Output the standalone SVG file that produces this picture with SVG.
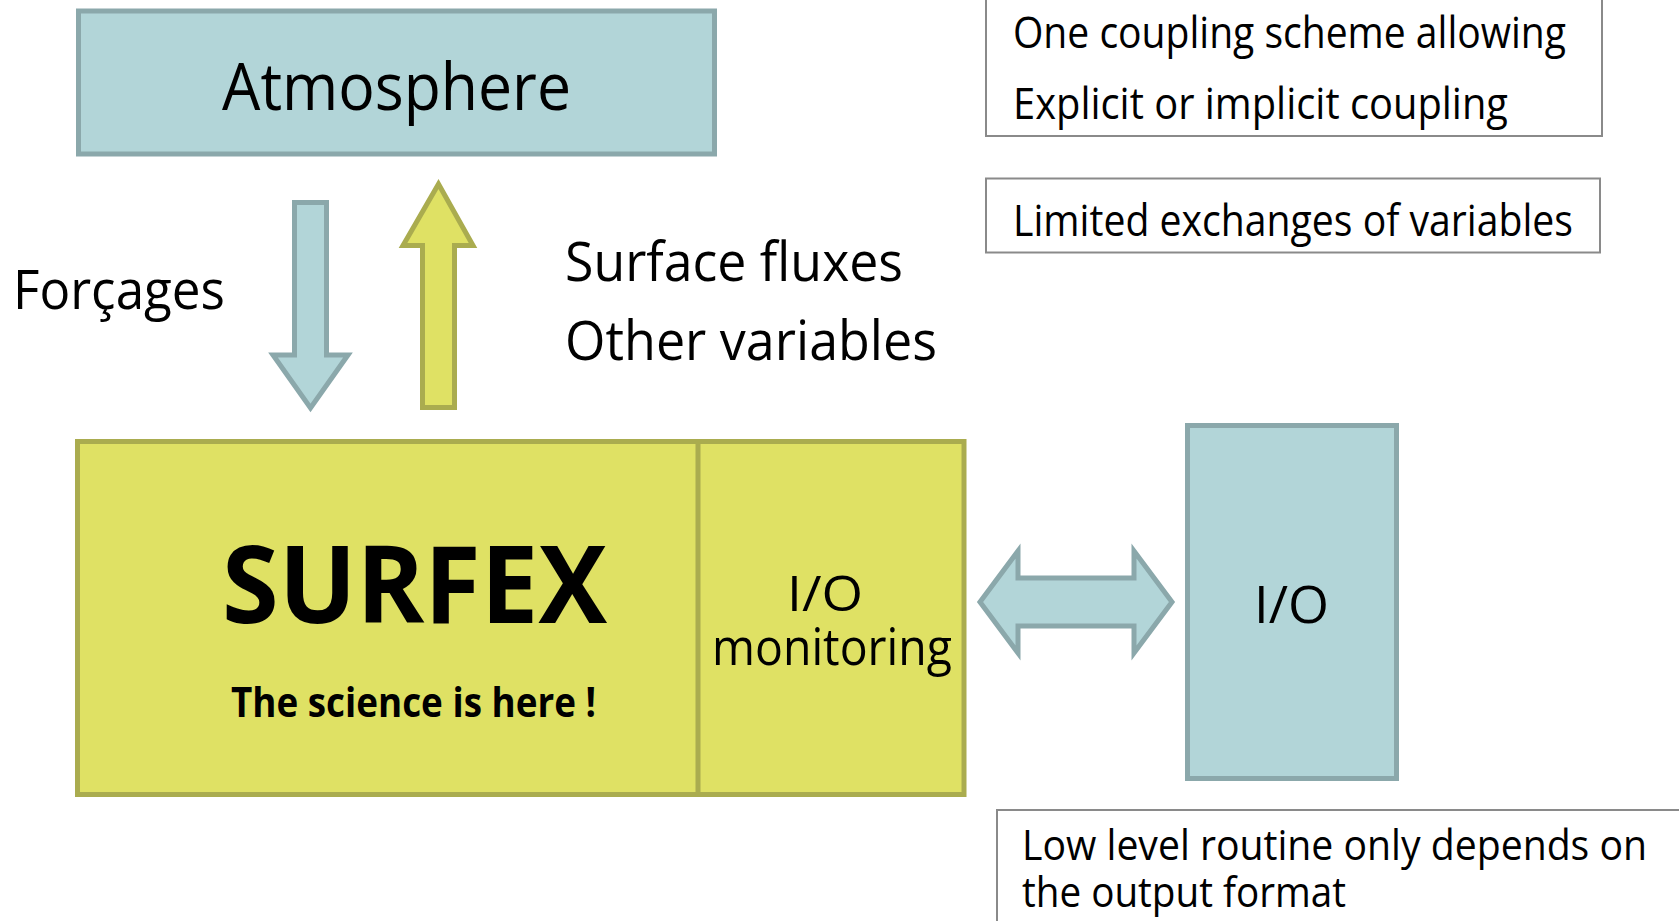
<svg xmlns="http://www.w3.org/2000/svg" width="1679" height="921" viewBox="0 0 1679 921">
<style>
  .blue { fill: #b2d5d8; stroke: #8ba8ab; stroke-width: 5; }
  .yel { fill: #dfe164; stroke: #aaac4f; stroke-width: 5; }
  .note { fill: #ffffff; stroke: #8a8a8a; stroke-width: 2; }
  text { font-family: "Open Sans", "Noto Sans", "DejaVu Sans", sans-serif; fill: #000000; }
  .b { font-weight: 700; }
</style>
<rect width="1679" height="921" fill="#ffffff"/>

<g id="atmosphere">
  <rect class="blue" x="78.5" y="11" width="636" height="143"/>
  <text x="222" y="110" font-size="66" textLength="349" lengthAdjust="spacingAndGlyphs">Atmosphere</text>
</g>

<g id="note-coupling">
  <rect class="note" x="986" y="-5" width="616" height="141"/>
  <text x="1013" y="48" font-size="44" textLength="553" lengthAdjust="spacingAndGlyphs">One coupling scheme allowing</text>
  <text x="1013" y="119" font-size="44" textLength="495" lengthAdjust="spacingAndGlyphs">Explicit or implicit coupling</text>
</g>

<g id="note-exchanges">
  <rect class="note" x="986" y="178.5" width="614" height="74"/>
  <text x="1013" y="236" font-size="44" textLength="560" lengthAdjust="spacingAndGlyphs">Limited exchanges of variables</text>
</g>

<g id="label-forcages">
  <text x="13" y="309" font-size="54" textLength="212" lengthAdjust="spacingAndGlyphs">Forçages</text>
</g>

<g id="label-fluxes">
  <text x="565" y="281" font-size="55" textLength="338" lengthAdjust="spacingAndGlyphs">Surface fluxes</text>
  <text x="565" y="360" font-size="55" textLength="372" lengthAdjust="spacingAndGlyphs">Other variables</text>
</g>

<g id="surfex">
  <rect class="yel" x="77.5" y="441.5" width="676" height="353"/>
  <text class="b" x="222" y="623" font-size="108" textLength="385" lengthAdjust="spacingAndGlyphs">SURFEX</text>
  <text class="b" x="231" y="717" font-size="42" textLength="365" lengthAdjust="spacingAndGlyphs">The science is here !</text>
</g>

<g id="io-monitoring">
  <rect class="yel" x="698" y="441.5" width="266" height="353"/>
  <text x="787" y="611" font-size="50" textLength="76" lengthAdjust="spacingAndGlyphs">I/O</text>
  <text x="712" y="665" font-size="52" textLength="240" lengthAdjust="spacingAndGlyphs">monitoring</text>
</g>

<g id="io">
  <rect class="blue" x="1187.5" y="425.5" width="209" height="353"/>
  <text x="1254" y="623" font-size="52" textLength="75" lengthAdjust="spacingAndGlyphs">I/O</text>
</g>

<g id="note-lowlevel">
  <rect class="note" x="997" y="810" width="700" height="130"/>
  <text x="1022" y="860" font-size="42" textLength="625" lengthAdjust="spacingAndGlyphs">Low level routine only depends on</text>
  <text x="1022" y="907" font-size="42" textLength="324" lengthAdjust="spacingAndGlyphs">the output format</text>
</g>

<g id="connectors">
  <path class="blue" d="M294.5,202.5 H326.5 V355 H348 L310.5,408 L273,355 H294.5 Z"/>
  <path class="yel" d="M422.5,407.5 H454.5 V245.5 H473 L438.5,184 L403,245.5 H422.5 Z"/>
  <path class="blue" d="M980,602 L1018,551 V578 H1134 V551 L1172,602 L1134,653 V626 H1018 V653 Z"/>
</g>
</svg>
